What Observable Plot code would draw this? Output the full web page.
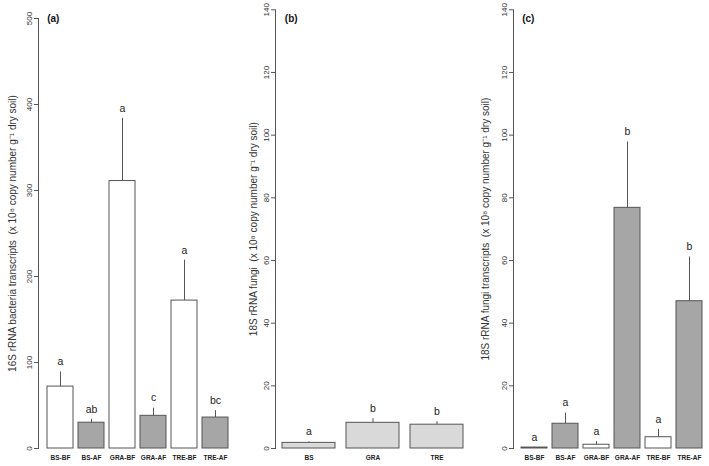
<!DOCTYPE html>
<html><head><meta charset="utf-8">
<script src="https://cdn.jsdelivr.net/npm/d3@7"></script>
<script src="https://cdn.jsdelivr.net/npm/@observablehq/plot@0.6"></script>
<style>
body{margin:0;background:#fff;}
#wrap{position:relative;width:709px;height:466px;overflow:hidden;font-family:"Liberation Sans",Arial,sans-serif;}
.panel{position:absolute;top:0;}
</style></head><body><div id="wrap"></div>
<script>
// Panel (a): 16S rRNA bacteria transcripts
const catsA = ["BS-BF","BS-AF","GRA-BF","GRA-AF","TRE-BF","TRE-AF"];
const meanA = [72, 30, 311, 38, 172, 36];
const seA = [17, 4, 73, 9, 47, 8];
const lettersA = ["a","ab","a","c","a","bc"];
const ticksA = [0,100,200,300,400,500];

// Panel (b): 18S rRNA fungi
const catsB = ["BS","GRA","TRE"];
const meanB = [1.8, 8.2, 7.6];
const seB = [0.3, 1.3, 1.0];
const lettersB = ["a","b","b"];
const ticksBC = [0,20,40,60,80,100,120,140];

// Panel (c): 18S rRNA fungi transcripts
const catsC = ["BS-BF","BS-AF","GRA-BF","GRA-AF","TRE-BF","TRE-AF"];
const meanC = [0.3, 7.9, 1.2, 76.8, 3.6, 47.0];
const seC = [0.1, 3.4, 1.0, 21.0, 2.5, 14.1];
const lettersC = ["a","a","a","b","a","b"];

const FONT = '"Liberation Sans", Arial, sans-serif';
const AX = "#555";

function fillFor(cat, single){
  if (single) return "#d9d9d9";
  return cat.endsWith("AF") ? "#a6a6a6" : "#ffffff";
}

function makePanel(o){
  const data = o.cats.map((c,i)=>({cat:c, mean:o.means[i], top:o.means[i]+o.ses[i], letter:o.letters[i]}));
  return Plot.plot({
    width:o.width, height:466,
    marginLeft:o.ml, marginRight:o.mr, marginTop:o.mt, marginBottom:18,
    style:{background:"transparent", fontFamily:FONT, overflow:"visible"},
    x:{domain:o.cats, paddingInner:0.2/1.2, paddingOuter:o.po, axis:null},
    y:{domain:[0,o.yMax], axis:null},
    color:{type:"identity"},
    marks:[
      Plot.frame({anchor:"left", stroke:AX}),
      Plot.axisY({ticks:o.yTicks, tickFormat:d=>String(d), tickSize:4, tickRotate:-90, tickPadding:3, fontSize:8, stroke:AX, fill:"#333", label:null}),
      Plot.axisX({tickSize:0, tickPadding:7, fontSize:6.5, fontWeight:"bold", fill:"#222", label:null}),
      Plot.barY(data, {x:"cat", y:"mean", fill:d=>fillFor(d.cat, o.single), stroke:AX, strokeWidth:1}),
      Plot.ruleX(data, {x:"cat", y1:"mean", y2:"top", stroke:AX, strokeWidth:1}),
      Plot.text(data, {x:"cat", y:"top", text:"letter", dy:-10, fontSize:10.5, fill:"#222"}),
      Plot.text([o.title], {text:d=>d, frameAnchor:"left", dx:-(o.ml-o.titleX), rotate:-90, textAnchor:"middle", lineAnchor:"middle", fontSize:10, fill:"#333"}),
      Plot.text([o.tag], {text:d=>d, frameAnchor:"top-left", dx:o.tagDx, dy:o.tagDy, textAnchor:"start", lineAnchor:"middle", fontWeight:"bold", fontSize:10, fill:"#111"})
    ]
  });
}

const panels = [
  {left:0, width:236, ml:38, mr:0, mt:18, po:0.233, cats:catsA, means:meanA, ses:seA, letters:lettersA, yMax:500, yTicks:ticksA,
   title:"16S rRNA bacteria transcripts  (x 10\u2078 copy number g\u207B\u00B9 dry soil)", titleX:12, tag:"(a)", tagDx:8.7, tagDy:0},
  {left:236, width:236, ml:39, mr:1, mt:9.3, po:0.1133, single:true, cats:catsB, means:meanB, ses:seB, letters:lettersB, yMax:140, yTicks:ticksBC,
   title:"18S rRNA fungi  (x 10\u2078 copy number g\u207B\u00B9 dry soil)", titleX:17, tag:"(b)", tagDx:9.3, tagDy:9},
  {left:472, width:237, ml:41, mr:0, mt:9.3, po:0.233, cats:catsC, means:meanC, ses:seC, letters:lettersC, yMax:140, yTicks:ticksBC,
   title:"18S rRNA fungi transcripts  (x 10\u2078 copy number g\u207B\u00B9 dry soil)", titleX:13, tag:"(c)", tagDx:8.7, tagDy:9}
];

const wrap = document.getElementById("wrap");
for (const p of panels){
  const d = document.createElement("div");
  d.className = "panel";
  d.style.left = p.left + "px";
  d.appendChild(makePanel(p));
  wrap.appendChild(d);
}
</script></body></html>
